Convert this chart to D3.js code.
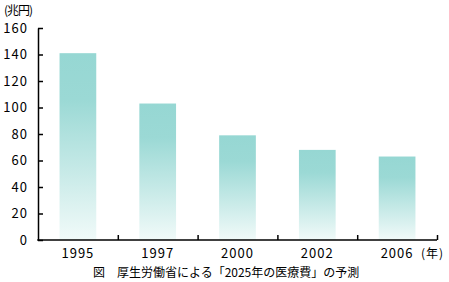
<!DOCTYPE html>
<html>
<head>
<meta charset="utf-8">
<script src="https://cdn.jsdelivr.net/npm/d3@7"></script>
<style>
  body { margin: 0; background: #fff; }
  text { font-family: "Noto Sans CJK JP", sans-serif; fill: #000; }
</style>
</head>
<body>
<div id="chart"></div>
<script>
// 厚生労働省による「2025年の医療費」の予測
const years = ["1995", "1997", "2000", "2002", "2006"];
const costs = [141, 103, 79, 68, 63];
const yTicks = [0, 20, 40, 60, 80, 100, 120, 140, 160];

const width = 449;
const height = 282;

const svg = d3.select("#chart")
    .append("svg")
    .attr("width", width)
    .attr("height", height);

const xScale = d3.scaleBand()
    .domain(years)
    .range([38, 437])
    .paddingInner(0.54)
    .paddingOuter(0.27);

const yScale = d3.scaleLinear()
    .domain([0, 160])
    .range([240, 28]);

const grad = svg.append("defs").append("linearGradient")
    .attr("id", "barGrad")
    .attr("x1", 0).attr("y1", 0)
    .attr("x2", 0).attr("y2", 1);
grad.append("stop").attr("offset", "0").attr("stop-color", "#96d7d3");
grad.append("stop").attr("offset", "0.25").attr("stop-color", "#9bd9d5");
grad.append("stop").attr("offset", "1").attr("stop-color", "#f1faf9");

svg.selectAll(".bar")
    .data(years)
    .enter()
    .append("rect")
    .attr("class", "bar")
    .attr("x", d => xScale(d))
    .attr("y", (d, i) => yScale(costs[i]))
    .attr("width", xScale.bandwidth())
    .attr("height", (d, i) => yScale(0) - yScale(costs[i]))
    .attr("fill", "url(#barGrad)");

// y axis, ticks point inward
const yAxis = svg.append("g")
    .attr("transform", "translate(38,0)")
    .call(d3.axisLeft(yScale).tickValues(yTicks).tickSizeInner(-5).tickSizeOuter(0).tickPadding(10));
yAxis.select(".domain").attr("stroke", "#000").attr("stroke-width", 1.5);
yAxis.selectAll(".tick line").attr("stroke", "#000").attr("stroke-width", 1.5);
yAxis.selectAll(".tick text")
    .attr("font-size", 13)
    .attr("letter-spacing", 1)
    .style("font-family", "'Noto Sans CJK JP', sans-serif");

// x axis, boundary ticks
const bounds = years.map(y => xScale(y) + xScale.bandwidth() + xScale.step() * xScale.paddingInner() / 2 + 0.5);
const xg = svg.append("g");
xg.append("line")
    .attr("x1", 37.25).attr("x2", 437)
    .attr("y1", 240).attr("y2", 240)
    .attr("stroke", "#000").attr("stroke-width", 1.5);
xg.selectAll(".xt")
    .data(bounds)
    .enter()
    .append("line")
    .attr("x1", d => d).attr("x2", d => d)
    .attr("y1", 240).attr("y2", 235)
    .attr("stroke", "#000").attr("stroke-width", 1.5);
xg.selectAll(".xl")
    .data(years)
    .enter()
    .append("text")
    .attr("x", d => xScale(d) + xScale.bandwidth() / 2)
    .attr("y", 258)
    .attr("text-anchor", "middle")
    .attr("font-size", 13)
    .attr("letter-spacing", 1)
    .text(d => d);

svg.append("text")
    .attr("x", 421).attr("y", 258)
    .attr("font-size", 12)
    .attr("letter-spacing", 1)
    .text("(年)");

svg.append("text")
    .attr("x", 4).attr("y", 15)
    .attr("font-size", 12)
    .attr("letter-spacing", -1)
    .text("(兆円)");

svg.append("text")
    .attr("x", 93).attr("y", 277)
    .attr("font-size", 12)
    .text("図　厚生労働省による「2025年の医療費」の予測");
</script>
</body>
</html>
